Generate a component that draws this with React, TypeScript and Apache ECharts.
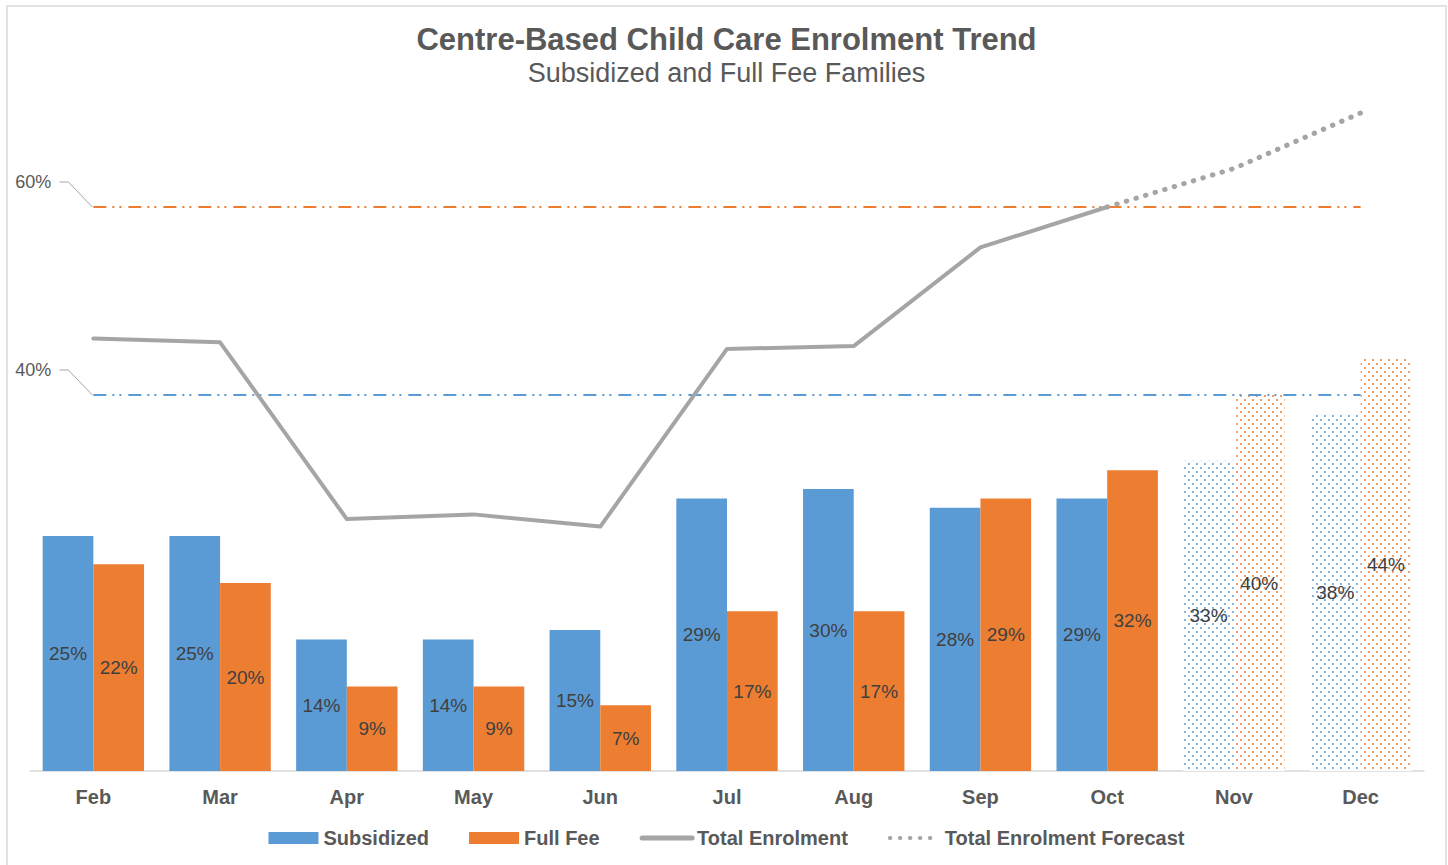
import React, { useEffect, useRef } from "react";
import * as echarts from "echarts";

const months = ["Feb", "Mar", "Apr", "May", "Jun", "Jul", "Aug", "Sep", "Oct", "Nov", "Dec"];
const subsidized = [25, 25, 14, 14, 15, 29, 30, 28, 29, 33, 38];
const fullFee = [22, 20, 9, 9, 7, 17, 17, 29, 32, 40, 44];
const totalEnrolment = [46.0, 45.6, 26.8, 27.3, 26.0, 44.9, 45.2, 55.7, 60.0, null, null];
const totalForecast = [null, null, null, null, null, null, null, null, 60.0, 64.1, 70.0];
const forecastMonths = ["Nov", "Dec"];
const fullFeeTarget = 60;
const subsidizedTarget = 40;
const targetLabels = [
  [0, fullFeeTarget, "60%"],
  [0, subsidizedTarget, "40%"],
];

const BLUE = "#5b9bd5";
const ORANGE = "#ed7d31";
const GRAY = "#a5a5a5";
const TEXT = "#595959";
const FONT = "'Liberation Sans', Arial, sans-serif";
const DASH_DOT = [13, 6, 2, 5, 2, 7];
const DOTS = [0.5, 9.5];

function barData(values: number[], decalColor: string) {
  return values.map((v, i) => {
    if (forecastMonths.includes(months[i])) {
      return {
        value: v,
        itemStyle: {
          color: "#ffffff",
          decal: {
            symbol: "rect",
            symbolSize: 1,
            color: decalColor,
            dashArrayX: [[2, 6], [0, 4, 2, 2]],
            dashArrayY: [2, 2],
            rotation: 0,
          },
        },
      };
    }
    return { value: v };
  });
}

export default function App() {
  const ref = useRef<HTMLDivElement>(null);
  useEffect(() => {
    if (!ref.current) return;
    const chart = echarts.init(ref.current, null, { renderer: "svg" });
    const labelStyle = {
      show: true,
      position: "inside",
      formatter: "{c}%",
      color: "#404040",
      fontSize: 19,
      fontFamily: FONT,
    };
    const hiddenSymbol = { color: "rgba(0,0,0,0)", borderColor: "rgba(0,0,0,0)", borderWidth: 0, opacity: 0 };
    chart.setOption({
      animation: false,
      textStyle: { fontFamily: FONT },
      title: {
        text: "Centre-Based Child Care Enrolment Trend",
        subtext: "Subsidized and Full Fee Families",
        left: "center",
        top: 12,
        itemGap: 4,
        textStyle: { fontSize: 31, fontWeight: "bold", color: TEXT, fontFamily: FONT, lineHeight: 31 },
        subtextStyle: { fontSize: 27, color: TEXT, fontFamily: FONT, lineHeight: 27 },
      },
      legend: {
        top: 816,
        left: "center",
        itemWidth: 50,
        itemHeight: 12,
        itemGap: 40,
        textStyle: { fontSize: 20, fontWeight: "bold", color: TEXT, fontFamily: FONT },
        data: [
          { name: "Subsidized", icon: "rect" },
          { name: "Full Fee", icon: "rect" },
          { name: "Total Enrolment", itemStyle: hiddenSymbol, lineStyle: { width: 5, color: GRAY, type: "solid", cap: "round" } },
          { name: "Total Enrolment Forecast", itemStyle: hiddenSymbol, lineStyle: { width: 4, color: GRAY, type: DOTS, cap: "round" } },
        ],
      },
      grid: { left: 22, right: 21, top: 12, bottom: 94, containLabel: false },
      xAxis: {
        type: "category",
        data: months,
        axisTick: { show: false },
        axisLine: { lineStyle: { color: "#d9d9d9", width: 1.5 } },
        axisLabel: { fontSize: 20, fontWeight: "bold", color: TEXT, margin: 16, fontFamily: FONT },
      },
      yAxis: { type: "value", min: 0, max: 80, show: false, splitLine: { show: false } },
      series: [
        {
          name: "Subsidized",
          type: "bar",
          color: BLUE,
          barGap: "0%",
          barCategoryGap: "20%",
          itemStyle: { color: BLUE },
          label: labelStyle,
          data: barData(subsidized, "rgba(91,155,213,0.75)"),
        },
        {
          name: "Full Fee",
          type: "bar",
          color: ORANGE,
          barGap: "0%",
          barCategoryGap: "20%",
          itemStyle: { color: ORANGE },
          label: labelStyle,
          data: barData(fullFee, "rgba(237,125,49,0.75)"),
        },
        {
          name: "Total Enrolment",
          type: "line",
          color: GRAY,
          symbol: "none",
          z: 5,
          lineStyle: { color: GRAY, width: 4, join: "round", cap: "round" },
          data: totalEnrolment,
          markLine: {
            silent: true,
            symbol: "none",
            label: { show: false },
            data: [
              [
                { coord: [months[0], fullFeeTarget], lineStyle: { color: ORANGE, width: 2, type: DASH_DOT } },
                { coord: [months[months.length - 1], fullFeeTarget] },
              ],
              [
                { coord: [months[0], subsidizedTarget], lineStyle: { color: BLUE, width: 2, type: DASH_DOT } },
                { coord: [months[months.length - 1], subsidizedTarget] },
              ],
            ],
          },
        },
        {
          name: "Total Enrolment Forecast",
          type: "line",
          color: GRAY,
          symbol: "none",
          z: 5,
          lineStyle: { color: GRAY, width: 5, type: DOTS, cap: "round" },
          data: totalForecast,
        },
        {
          name: "targetLabels",
          type: "custom",
          silent: true,
          z: 6,
          data: targetLabels,
          encode: { x: 0, y: 1 },
          renderItem: (params: any, api: any) => {
            const p = api.coord([api.value(0), api.value(1)]);
            const x = p[0];
            const y = p[1];
            const label = targetLabels[params.dataIndex][2] as string;
            return {
              type: "group",
              children: [
                {
                  type: "polyline",
                  shape: { points: [[x - 1, y], [x - 25, y - 25], [x - 34, y - 25]] },
                  style: { stroke: "#a6a6a6", lineWidth: 1, fill: "none" },
                },
                {
                  type: "text",
                  style: {
                    text: label,
                    x: x - 42,
                    y: y - 25,
                    align: "right",
                    verticalAlign: "middle",
                    fill: TEXT,
                    font: `18px ${FONT}`,
                  },
                },
              ],
            };
          },
        },
      ],
    });
    return () => chart.dispose();
  }, []);
  return (
    <div
      style={{
        position: "absolute",
        left: 6,
        top: 5,
        width: 1441,
        height: 860,
        boxSizing: "border-box",
        border: "2px solid #e2e2e2",
        borderBottom: "none",
        background: "#fff",
      }}
    >
      <div ref={ref} style={{ width: 1437, height: 858 }} />
    </div>
  );
}
